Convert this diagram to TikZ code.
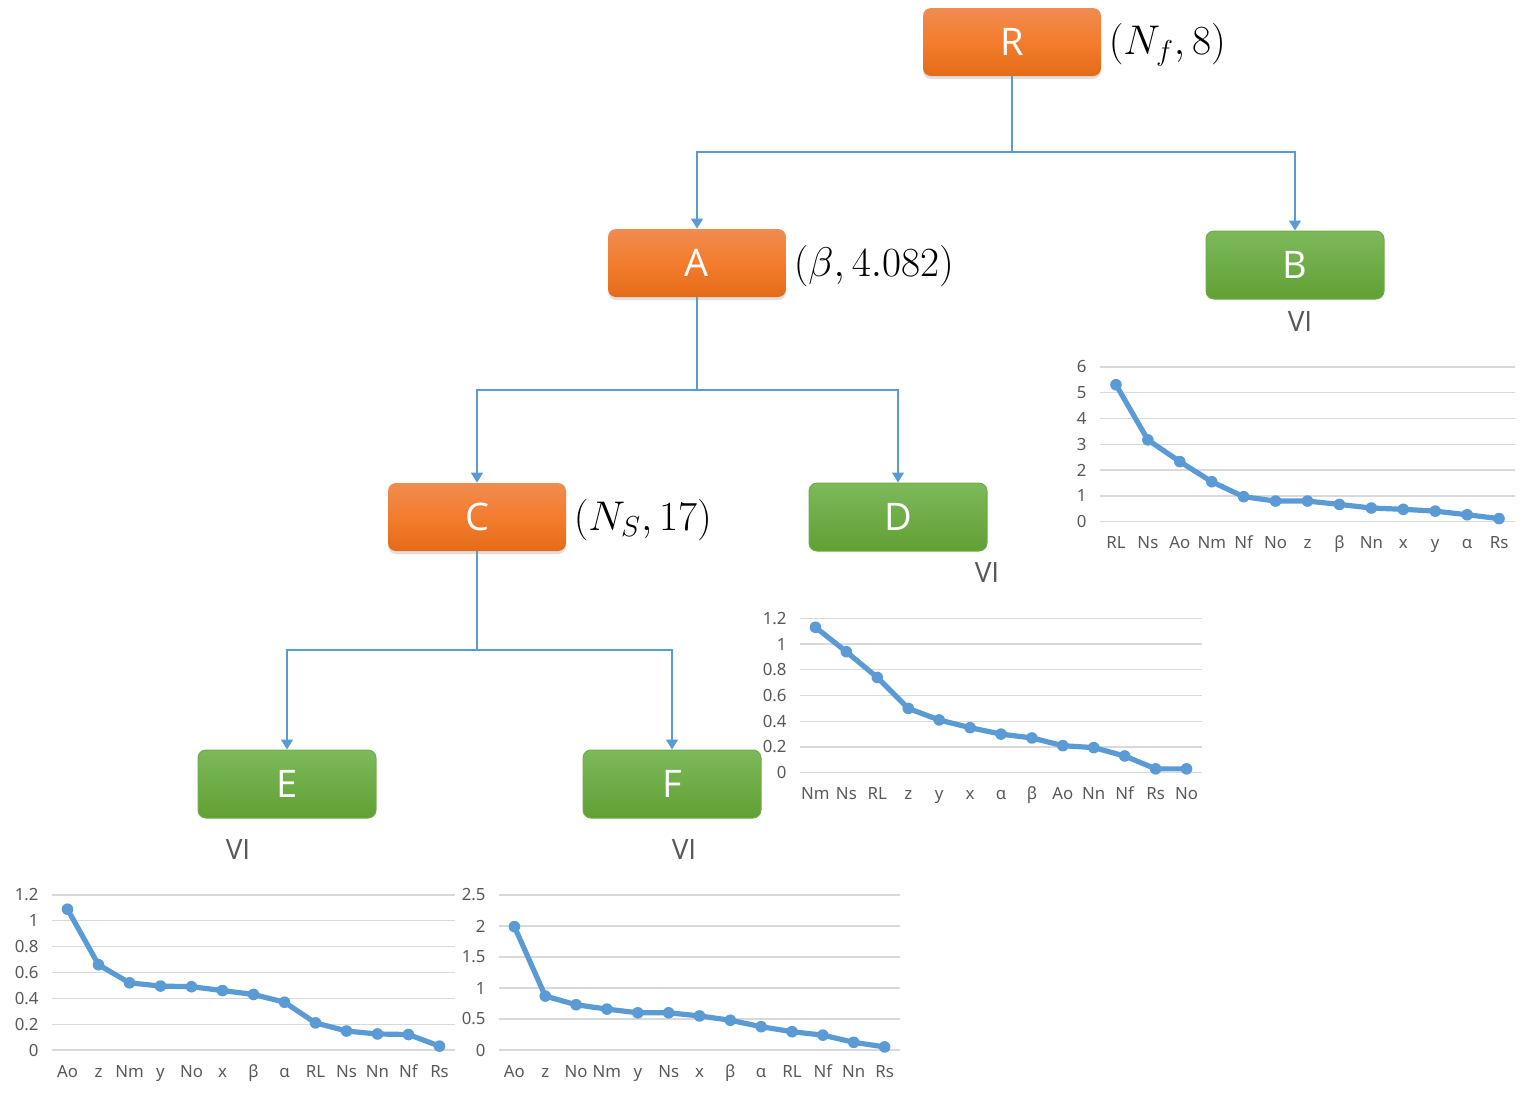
\documentclass[tikz,border=0pt]{standalone}
\usepackage{fontspec}
\setmainfont{Open Sans}
\newfontfamily\chartfont{Noto Sans}
\usepackage{tikz}
\usetikzlibrary{arrows.meta, shadows, calc}

\definecolor{linkblue}{HTML}{5B9BD5}
\definecolor{orangetop}{HTML}{F08C50}
\definecolor{orangemid}{HTML}{F37C2E}
\definecolor{orangebot}{HTML}{E46C18}
\definecolor{greentop}{HTML}{7DB95A}
\definecolor{greenbot}{HTML}{60A034}
\definecolor{greenedge}{HTML}{6EAC4A}
\definecolor{gridgray}{HTML}{D9D9D9}
\definecolor{textgray}{HTML}{595959}

\tikzset{
	treebox/.style={rounded corners=4pt, minimum width=89pt, minimum height=34pt, text=white, font=\fontsize{19}{22}\selectfont},
	orangebox/.style={treebox, drop shadow={shadow xshift=0pt, shadow yshift=-1.5pt, opacity=0.25}, top color=orangetop, bottom color=orangebot, middle color=orangemid},
	greenbox/.style={treebox, draw=greenedge, line width=0.5pt, top color=greentop, bottom color=greenbot},
	splitlabel/.style={anchor=west, inner sep=0pt, xshift=3.5pt, yshift=-1.5pt, font=\fontsize{19.5}{22}\selectfont},
	vilabel/.style={text=textgray, inner sep=0pt, font=\fontsize{14}{16}\selectfont},
	link/.style={draw=linkblue, line width=0.75pt, -{Triangle[width=6pt,length=5pt]}},
	gridline/.style={draw=gridgray, line width=0.65pt},
	ticklabel/.style={anchor=east, inner sep=0pt, text=textgray, font=\chartfont\fontsize{8.4}{10}\selectfont},
	catlabel/.style={anchor=base, inner sep=0pt, text=textgray, font=\chartfont\fontsize{8.4}{10}\selectfont},
	vline/.style={draw=linkblue, line width=2.6pt, line join=round},
	vdot/.style={fill=linkblue}
}

% #1 name, #2 left x, #3 width, #4 zero line y, #5 px per unit, #6 ticks, #7 label/value list
\newcommand{\VIchart}[7]{%
	\foreach \t in {#6}{
		\draw[gridline] (#2,{#4-\t*#5}) -- ++(#3,0);
		\node[ticklabel] at (#2-13,{#4-\t*#5}) {\t};
	}
	\foreach \lab/\val [count=\i] in {#7}{
		\coordinate (#1-\i) at ({#2+(\i-0.5)*#3/13},{#4-\val*#5});
		\node[catlabel] at ({#2+(\i-0.5)*#3/13},#4+27) {\lab};
	}
	\draw[vline] (#1-1) \foreach \i in {2,...,13}{ -- (#1-\i)};
	\foreach \i in {1,...,13} \fill[vdot] (#1-\i) circle[radius=2.9pt];
}

\begin{document}
\begin{tikzpicture}[x=0.5pt, y=-0.5pt]
\useasboundingbox (0,0) rectangle (1538,1099);

% Draw tree nodes
\node[orangebox] (R) at (1012,42) {R};
\node[orangebox] (A) at (697,263) {A};
\node[greenbox] (B) at (1295,265) {B};
\node[orangebox] (C) at (477,517) {C};
\node[greenbox] (D) at (898,517) {D};
\node[greenbox] (E) at (287,784) {E};
\node[greenbox] (F) at (672,784) {F};

% Split labels
\node[splitlabel] (Rsplitlab) at (R.east) {$(N_f, 8)$};
\node[splitlabel] (Asplitlab) at (A.east) {$(\beta, 4.082)$};
\node[splitlabel] (Csplitlab) at (C.east) {$(N_S, 17)$};

% Leaf labels
\node[vilabel] (Bvi) at (1300,321) {VI};
\node[vilabel] (Dvi) at (987,572) {VI};
\node[vilabel] (Evi) at (238,849) {VI};
\node[vilabel] (Fvi) at (684,849) {VI};

% Draw connectors
\coordinate (Rsplit) at (1012,152);
\coordinate (Asplit) at (697,390);
\coordinate (Csplit) at (477,650);
\draw[link] (R.south) -- (Rsplit) -| (A.north);
\draw[link] (Rsplit) -| (B.north);
\draw[link] (A.south) -- (Asplit) -| (C.north);
\draw[link] (Asplit) -| (D.north);
\draw[link] (C.south) -- (Csplit) -| (E.north);
\draw[link] (Csplit) -| (F.north);

% Draw VI charts
\VIchart{chB}{1100}{415}{521.7}{25.8}{0,1,2,3,4,5,6}%
	{RL/5.31, Ns/3.17, Ao/2.33, Nm/1.55, Nf/0.97, No/0.80, z/0.80, β/0.67, Nn/0.53, x/0.48, y/0.41, α/0.27, Rs/0.12}
\VIchart{chD}{800}{402}{772.7}{128.7}{0,0.2,0.4,0.6,0.8,1,1.2}%
	{Nm/1.13, Ns/0.94, RL/0.74, z/0.50, y/0.41, x/0.35, α/0.30, β/0.27, Ao/0.21, Nn/0.195, Nf/0.13, Rs/0.03, No/0.03}
\VIchart{chE}{52}{403}{1050}{129.2}{0,0.2,0.4,0.6,0.8,1,1.2}%
	{Ao/1.09, z/0.66, Nm/0.52, y/0.495, No/0.49, x/0.46, β/0.43, α/0.37, RL/0.21, Ns/0.147, Nn/0.124, Nf/0.12, Rs/0.03}
\VIchart{chF}{499}{401}{1050}{62}{0,0.5,1,1.5,2,2.5}%
	{Ao/1.99, z/0.87, No/0.73, Nm/0.66, y/0.60, Ns/0.60, x/0.55, β/0.48, α/0.376, RL/0.295, Nf/0.24, Nn/0.124, Rs/0.05}
\end{tikzpicture}
\end{document}
